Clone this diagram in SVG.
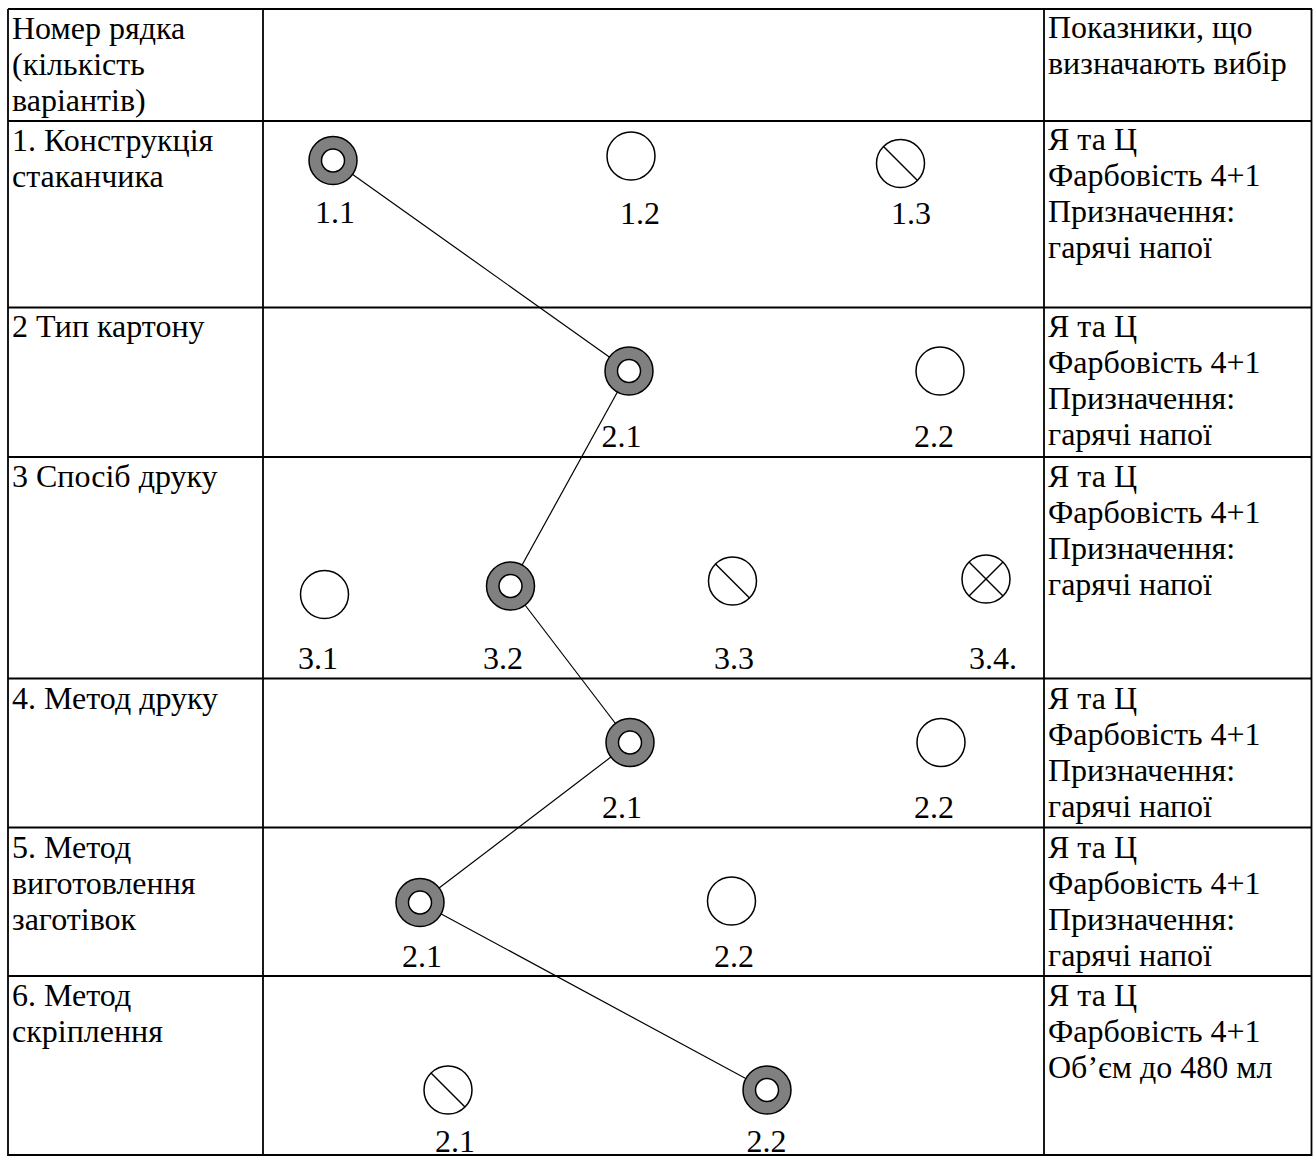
<svg xmlns="http://www.w3.org/2000/svg" width="1315" height="1156" viewBox="0 0 1315 1156">
<style>
.grid line{stroke:#000;stroke-width:1.8;}
.t{font-family:"Liberation Serif","Times New Roman",serif;font-size:32px;fill:#000;}
.lbl{font-family:"Liberation Serif","Times New Roman",serif;font-size:32px;fill:#000;text-anchor:middle;}
.conn line{stroke:#000;stroke-width:1.2;}
.o{fill:#fff;stroke:#000;stroke-width:1.5;}
.f{fill:#808080;stroke:#000;stroke-width:1.5;}
.s{stroke:#000;stroke-width:1.5;}
</style>
<defs>
<g id="sel"><circle class="f" r="24"/><circle class="o" r="11.5"/></g>
<g id="emp"><circle class="o" r="24"/></g>
<g id="sla"><circle class="o" r="24"/><line class="s" x1="-17" y1="-17" x2="17" y2="17"/></g>
<g id="crs"><circle class="o" r="24"/><line class="s" x1="-17" y1="-17" x2="17" y2="17"/><line class="s" x1="17" y1="-17" x2="-17" y2="17"/></g>
</defs>
<rect width="1315" height="1156" fill="#fff"/>
<g id="grid" class="grid">
<line x1="8" y1="9" x2="1312" y2="9"/>
<line x1="8" y1="121" x2="1312" y2="121"/>
<line x1="8" y1="307.5" x2="1312" y2="307.5"/>
<line x1="8" y1="457" x2="1312" y2="457"/>
<line x1="8" y1="678.5" x2="1312" y2="678.5"/>
<line x1="8" y1="827.5" x2="1312" y2="827.5"/>
<line x1="8" y1="976" x2="1312" y2="976"/>
<line x1="8" y1="1155" x2="1312" y2="1155"/>
<line x1="8" y1="9" x2="8" y2="1156"/>
<line x1="263" y1="9" x2="263" y2="1156"/>
<line x1="1044" y1="9" x2="1044" y2="1156"/>
<line x1="1311.5" y1="9" x2="1311.5" y2="1156"/>
</g>
<g id="rowtitles" class="t">
<text x="12" y="39">Номер рядка</text>
<text x="12" y="75">(кількість</text>
<text x="12" y="111">варіантів)</text>
<text x="12" y="151">1. Конструкція</text>
<text x="12" y="187">стаканчика</text>
<text x="12" y="337">2 Тип картону</text>
<text x="12" y="487">3 Спосіб друку</text>
<text x="12" y="709">4. Метод друку</text>
<text x="12" y="858">5. Метод</text>
<text x="12" y="894">виготовлення</text>
<text x="12" y="930">заготівок</text>
<text x="12" y="1006">6. Метод</text>
<text x="12" y="1042">скріплення</text>
</g>
<g id="indicators" class="t">
<text x="1048" y="38">Показники, що</text>
<text x="1048" y="74">визначають вибір</text>
<text x="1048" y="150">Я та Ц</text>
<text x="1048" y="186">Фарбовість 4+1</text>
<text x="1048" y="222">Призначення:</text>
<text x="1048" y="258">гарячі напої</text>
<text x="1048" y="337">Я та Ц</text>
<text x="1048" y="373">Фарбовість 4+1</text>
<text x="1048" y="409">Призначення:</text>
<text x="1048" y="445">гарячі напої</text>
<text x="1048" y="487">Я та Ц</text>
<text x="1048" y="523">Фарбовість 4+1</text>
<text x="1048" y="559">Призначення:</text>
<text x="1048" y="595">гарячі напої</text>
<text x="1048" y="709">Я та Ц</text>
<text x="1048" y="745">Фарбовість 4+1</text>
<text x="1048" y="781">Призначення:</text>
<text x="1048" y="817">гарячі напої</text>
<text x="1048" y="858">Я та Ц</text>
<text x="1048" y="894">Фарбовість 4+1</text>
<text x="1048" y="930">Призначення:</text>
<text x="1048" y="966">гарячі напої</text>
<text x="1048" y="1006">Я та Ц</text>
<text x="1048" y="1042">Фарбовість 4+1</text>
<text x="1048" y="1078">Об’єм до 480 мл</text>
</g>
<g id="connectors" class="conn">
<line x1="333" y1="160.5" x2="629" y2="371"/>
<line x1="629" y1="371" x2="510.5" y2="586"/>
<line x1="510.5" y1="586" x2="630" y2="742.5"/>
<line x1="630" y1="742.5" x2="420" y2="902.5"/>
<line x1="420" y1="902.5" x2="767" y2="1090"/>
</g>
<g id="n1-1"><use href="#sel" x="333" y="160.5"/><text class="lbl" x="335" y="223">1.1</text></g>
<g id="n1-2"><use href="#emp" x="631" y="156"/><text class="lbl" x="640" y="224">1.2</text></g>
<g id="n1-3"><use href="#sla" x="900.5" y="163.5"/><text class="lbl" x="911" y="224">1.3</text></g>
<g id="n2-1"><use href="#sel" x="629" y="371"/><text class="lbl" x="621.5" y="447">2.1</text></g>
<g id="n2-2"><use href="#emp" x="940" y="371"/><text class="lbl" x="934" y="447">2.2</text></g>
<g id="n3-1"><use href="#emp" x="324.5" y="594.5"/><text class="lbl" x="318" y="669">3.1</text></g>
<g id="n3-2"><use href="#sel" x="510.5" y="586"/><text class="lbl" x="503" y="669">3.2</text></g>
<g id="n3-3"><use href="#sla" x="732.5" y="581"/><text class="lbl" x="734" y="669">3.3</text></g>
<g id="n3-4"><use href="#crs" x="986" y="579"/><text class="lbl" x="993" y="669">3.4.</text></g>
<g id="n4-1"><use href="#sel" x="630" y="742.5"/><text class="lbl" x="622" y="818">2.1</text></g>
<g id="n4-2"><use href="#emp" x="941" y="742.5"/><text class="lbl" x="934" y="818">2.2</text></g>
<g id="n5-1"><use href="#sel" x="420" y="902.5"/><text class="lbl" x="422" y="967">2.1</text></g>
<g id="n5-2"><use href="#emp" x="731.5" y="901"/><text class="lbl" x="734" y="967">2.2</text></g>
<g id="n6-1"><use href="#sla" x="448" y="1090"/><text class="lbl" x="455" y="1152">2.1</text></g>
<g id="n6-2"><use href="#sel" x="767" y="1090"/><text class="lbl" x="766.5" y="1152">2.2</text></g>
</svg>
